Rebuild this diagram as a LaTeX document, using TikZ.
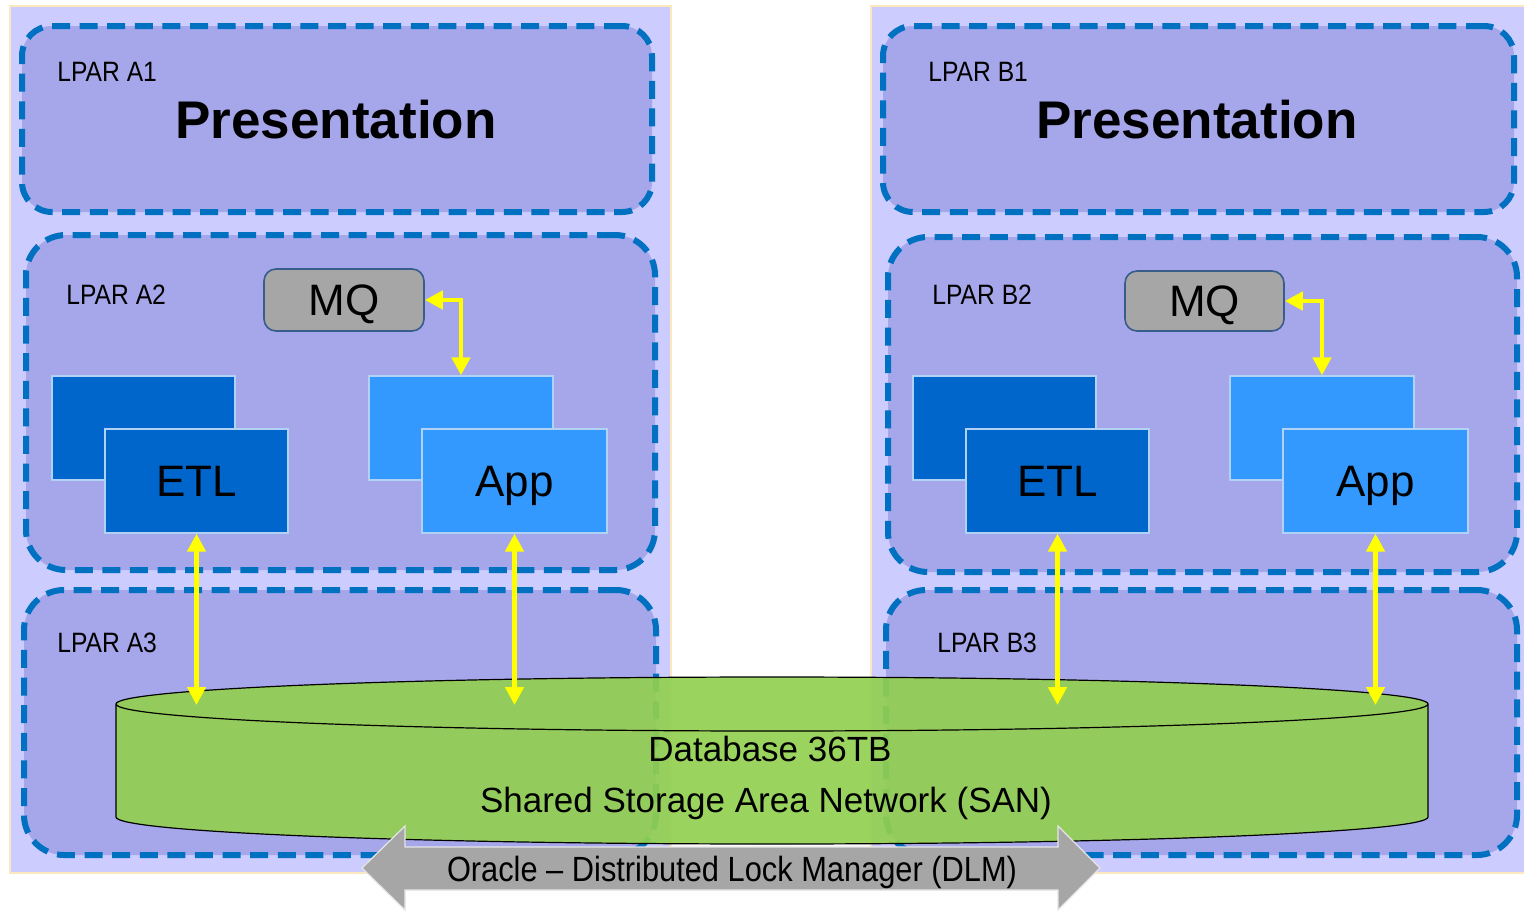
\documentclass[tikz,border=0pt]{standalone}
\usepackage{fontspec}
\setmainfont{Liberation Sans}
\newfontfamily\narrowfont[FakeStretch=0.88,Ligatures=TeX]{Liberation Sans}
\usetikzlibrary{arrows.meta}
\definecolor{panelfill}{RGB}{204,204,255}
\definecolor{panelline}{RGB}{252,232,190}
\definecolor{lparfill}{RGB}{166,166,234}
\definecolor{dashblue}{RGB}{0,112,192}
\definecolor{mqgray}{RGB}{166,166,166}
\definecolor{mqline}{RGB}{56,93,138}
\definecolor{etlblue}{RGB}{0,102,204}
\definecolor{appblue}{RGB}{51,153,255}
\definecolor{boxline}{RGB}{175,210,245}
\definecolor{dbgreen}{RGB}{146,208,80}
\definecolor{arrowgray}{RGB}{166,166,166}
\definecolor{yarrowcol}{RGB}{255,255,0}
\begin{document}
\begin{tikzpicture}[x=0.5pt,y=-0.5pt,
  panel/.style={draw=panelline, line width=1.2pt, fill=panelfill, inner sep=0pt, outer sep=0pt},
  lparbox/.style={draw=dashblue, line width=3pt, dash pattern=on 9pt off 4.8pt, fill=lparfill, inner sep=0pt, outer sep=0pt, rounded corners=20pt},
  lbl/.style={anchor=west, inner sep=0pt, font=\narrowfont\fontsize{14}{16}\selectfont},
  pres/.style={inner sep=0pt, font=\bfseries\fontsize{26.5}{30}\selectfont},
  mqbox/.style={draw=mqline, line width=0.8pt, fill=mqgray, rounded corners=6pt, minimum width=80pt, minimum height=31pt, inner sep=0pt, font=\fontsize{22}{24}\selectfont, text height=15.8pt, text depth=0pt},
  etlbox/.style={draw=boxline, line width=0.6pt, fill=etlblue, minimum width=91.5pt, minimum height=52pt, inner sep=0pt, font=\fontsize{22}{24}\selectfont, text height=15.8pt, text depth=0pt},
  appbox/.style={draw=boxline, line width=0.6pt, fill=appblue, minimum width=92.5pt, minimum height=52pt, inner sep=0pt, font=\fontsize{22}{24}\selectfont, text height=15.8pt, text depth=0pt},
  dbtext/.style={inner sep=0pt, font=\fontsize{17.5}{20}\selectfont, text height=12.6pt, text depth=0pt},
  dlmtext/.style={inner sep=0pt, font=\narrowfont\fontsize{17.5}{20}\selectfont, text height=12.6pt, text depth=0pt},
  yarrow/.style={draw=yarrowcol, line width=2.4pt, >={Triangle[width=9pt,length=9pt]}, <->}
]
\useasboundingbox (0,0) rectangle (1524,911);
\fill[white] (0,0) rectangle (1524,911);

% hardware panels
\node[panel, minimum width=330.5pt, minimum height=433.5pt] (pA) at (340.5,439.5) {};
\node[panel, minimum width=332pt, minimum height=433.5pt] (pB) at (1203,439.5) {};

% LPAR boxes
\node[lparbox, rounded corners=15pt, minimum width=315pt, minimum height=93pt] (a1) at (337,119) {};
\node[lparbox, minimum width=314.5pt, minimum height=167.5pt] (a2) at (340.5,402.5) {};
\node[lparbox, minimum width=316pt, minimum height=132.5pt] (a3) at (340,722.5) {};
\node[lparbox, rounded corners=15pt, minimum width=315.5pt, minimum height=93pt] (b1) at (1198.5,119) {};
\node[lparbox, minimum width=314.5pt, minimum height=167.5pt] (b2) at (1202.5,404.5) {};
\node[lparbox, minimum width=315.5pt, minimum height=132.5pt] (b3) at (1201.5,722.5) {};

% labels
\node[lbl] (la1) at (57,72) {LPAR A1};
\node[lbl] (la2) at (66,295) {LPAR A2};
\node[lbl] (la3) at (57,643) {LPAR A3};
\node[lbl] (lb1) at (928,72) {LPAR B1};
\node[lbl] (lb2) at (932,295) {LPAR B2};
\node[lbl] (lb3) at (937,643) {LPAR B3};

\node[pres] (presA) at (336,120) {Presentation};
\node[pres] (presB) at (1197,120) {Presentation};

% MQ
\node[mqbox] (mqA) at (344,300) {MQ};
\node[mqbox, minimum width=79.5pt, minimum height=30pt] (mqB) at (1204.5,301) {MQ};

% ETL / App
\node[etlbox] (etlbA) at (143.5,428) {};
\node[etlbox] (etlA) at (196.5,481) {ETL};
\node[appbox, minimum width=92pt] (appbA) at (461,428) {};
\node[appbox] (appA) at (514.5,481) {App};
\node[etlbox] (etlbB) at (1004.5,428) {};
\node[etlbox] (etlB) at (1057.5,481) {ETL};
\node[appbox, minimum width=92pt] (appbB) at (1322,428) {};
\node[appbox] (appB) at (1375.5,481) {App};

% database cylinder
\fill[dbgreen, fill opacity=0.92]
  (116,704) -- (116,817)
  .. controls (116,831.9) and (409.7,844) .. (772,844)
  .. controls (1134.3,844) and (1428,831.9) .. (1428,817)
  -- (1428,704)
  .. controls (1428,689.1) and (1134.3,677) .. (772,677)
  .. controls (409.7,677) and (116,689.1) .. (116,704) -- cycle;
\draw[black, line width=0.6pt]
  (116,704) -- (116,817)
  .. controls (116,831.9) and (409.7,844) .. (772,844)
  .. controls (1134.3,844) and (1428,831.9) .. (1428,817)
  -- (1428,704)
  .. controls (1428,689.1) and (1134.3,677) .. (772,677)
  .. controls (409.7,677) and (116,689.1) .. (116,704)
  .. controls (116,718.9) and (409.7,731) .. (772,731)
  .. controls (1134.3,731) and (1428,718.9) .. (1428,704);
\node[dbtext] (db1) at (770,749) {Database 36TB};
\node[dbtext] (db2) at (766,800) {Shared Storage Area Network (SAN)};

% DLM double arrow
\fill[arrowgray, draw=white!80!gray, line width=0.6pt]
  (362,868) -- (405,826) -- (405,847) -- (1058,847) -- (1058,826) -- (1100,868)
  -- (1058,910) -- (1058,890) -- (405,890) -- (405,910) -- cycle;
\node[dlmtext] (dlm) at (732,869) {Oracle – Distributed Lock Manager (DLM)};

% endpoints on database top
\coordinate (dA1) at (196.5,705);
\coordinate (dA2) at (514.5,705);
\coordinate (dB1) at (1057.5,705);
\coordinate (dB2) at (1375.5,705);

% yellow connectors
\draw[yarrow] (etlA.south) -- (dA1);
\draw[yarrow] (appA.south) -- (dA2);
\draw[yarrow] (etlB.south) -- (dB1);
\draw[yarrow] (appB.south) -- (dB2);
\draw[yarrow] (mqA.east) -| (appbA.north);
\draw[yarrow] (mqB.east) -| (appbB.north);
\end{tikzpicture}
\end{document}
